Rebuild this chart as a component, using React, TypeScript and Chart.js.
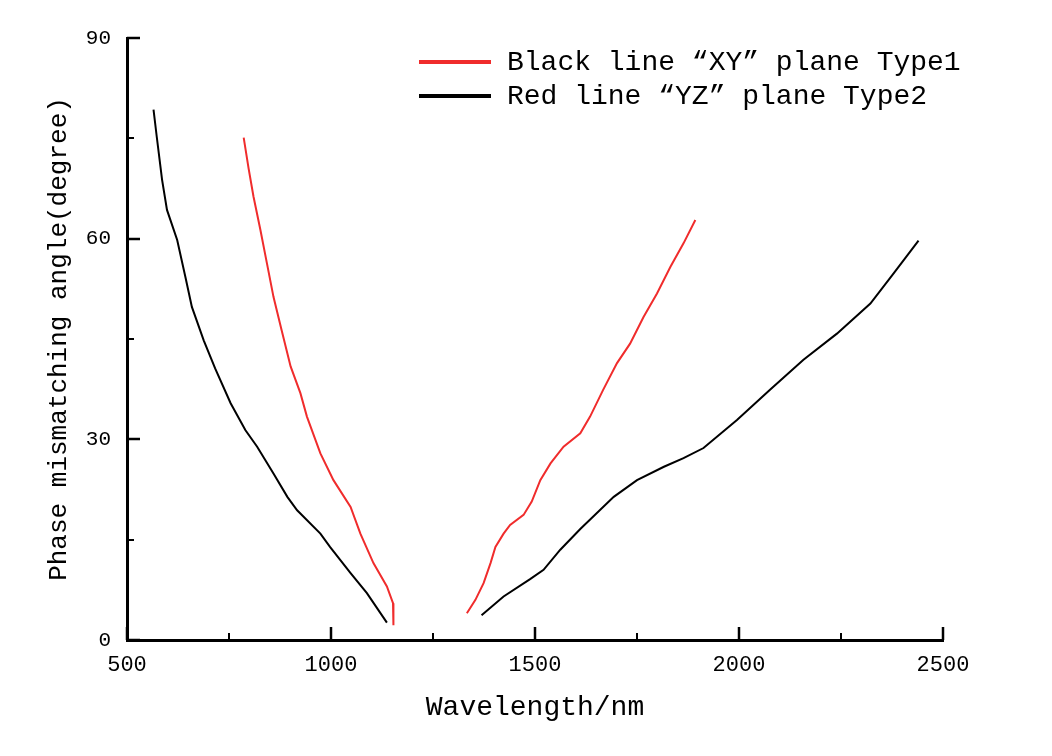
import React, { useEffect, useRef } from 'react';
import { Chart, registerables } from 'chart.js';

Chart.register(...registerables);

const FONT = '"Liberation Mono", "DejaVu Sans Mono", monospace';

// Series 1 (red): labelled "Black line “XY” plane Type1"
const redLeftX = [786, 798, 810, 827, 843, 859, 879, 901, 925, 941, 974, 1006, 1048, 1072, 1104, 1137, 1152, 1153];
const redLeftY = [75.1, 70.5, 66.3, 61.3, 56.3, 51.3, 46.3, 40.9, 36.9, 33.4, 27.9, 23.9, 19.9, 15.9, 11.5, 8.0, 5.5, 2.2];
const redRightX = [1333, 1354, 1374, 1391, 1403, 1423, 1439, 1472, 1492, 1513, 1538, 1570, 1611, 1635, 1667, 1701, 1733, 1766, 1799, 1832, 1864, 1893];
const redRightY = [4.0, 6.0, 8.5, 11.5, 13.9, 15.9, 17.2, 18.7, 20.7, 23.9, 26.4, 28.9, 30.9, 33.4, 37.4, 41.4, 44.3, 48.3, 51.8, 55.8, 59.3, 62.8];

// Series 2 (black): labelled "Red line “YZ” plane Type2"
const blackLeftX = [565, 573, 586, 598, 623, 643, 659, 688, 716, 754, 790, 819, 859, 893, 917, 974, 998, 1048, 1088, 1137];
const blackLeftY = [79.3, 75.2, 68.8, 64.3, 59.8, 54.3, 49.8, 44.8, 40.6, 35.4, 31.4, 28.9, 24.9, 21.4, 19.4, 15.9, 13.9, 10.0, 7.0, 2.6];
const blackRightX = [1369, 1423, 1488, 1521, 1562, 1611, 1693, 1750, 1816, 1864, 1913, 1995, 2076, 2158, 2240, 2322, 2379, 2440];
const blackRightY = [3.7, 6.5, 9.1, 10.5, 13.5, 16.6, 21.4, 23.9, 25.9, 27.2, 28.7, 32.9, 37.4, 41.9, 45.8, 50.3, 54.8, 59.7];

const seriesLabels = ['Black line \u201CXY\u201D plane Type1', 'Red line \u201CYZ\u201D plane Type2'];
const seriesColors = ['#f02c2c', '#000000'];

const xMajorTicks = [500, 1000, 1500, 2000, 2500];
const xMinorTicks = [750, 1250, 1750, 2250];
const yMajorTicks = [0, 30, 60, 90];
const yMinorTicks = [15, 45, 75];

const xTitle = 'Wavelength/nm';
const yTitle = 'Phase mismatching angle(degree)';

function buildSeries(lx: number[], ly: number[], rx: number[], ry: number[]) {
  const pts: { x: number; y: number | null }[] = lx.map((x, i) => ({ x, y: ly[i] }));
  pts.push({ x: (lx[lx.length - 1] + rx[0]) / 2, y: null });
  rx.forEach((x, i) => pts.push({ x, y: ry[i] }));
  return pts;
}

const inwardTicks = {
  id: 'inwardTicks',
  afterDatasetsDraw(chart: any) {
    const { ctx, chartArea } = chart;
    const xs = chart.scales.x;
    const ys = chart.scales.y;
    ctx.save();
    ctx.strokeStyle = '#000';
    const drawX = (vals: number[], len: number, w: number) => {
      ctx.lineWidth = w;
      vals.forEach((v) => {
        const px = Math.round(xs.getPixelForValue(v));
        ctx.beginPath();
        ctx.moveTo(px, chartArea.bottom);
        ctx.lineTo(px, chartArea.bottom - len);
        ctx.stroke();
      });
    };
    const drawY = (vals: number[], len: number, w: number) => {
      ctx.lineWidth = w;
      vals.forEach((v) => {
        const py = Math.round(ys.getPixelForValue(v));
        ctx.beginPath();
        ctx.moveTo(chartArea.left, py);
        ctx.lineTo(chartArea.left + len, py);
        ctx.stroke();
      });
    };
    drawX(xMajorTicks, 13, 2.5);
    drawX(xMinorTicks, 7, 2);
    drawY(yMajorTicks, 13, 2.5);
    drawY(yMinorTicks, 7, 2);
    ctx.restore();
  },
};

const customLegend = {
  id: 'customLegend',
  afterDraw(chart: any) {
    const { ctx } = chart;
    const rows = [62, 96];
    ctx.save();
    ctx.font = `28px ${FONT}`;
    ctx.textBaseline = 'middle';
    ctx.textAlign = 'left';
    chart.data.datasets.forEach((ds: any, i: number) => {
      const y = rows[i];
      ctx.strokeStyle = ds.borderColor;
      ctx.lineWidth = 4;
      ctx.beginPath();
      ctx.moveTo(419, y);
      ctx.lineTo(491, y);
      ctx.stroke();
      ctx.fillStyle = '#000';
      ctx.fillText(ds.label, 507, y + 1);
    });
    ctx.restore();
  },
};

export default function App() {
  const ref = useRef<HTMLCanvasElement>(null);

  useEffect(() => {
    if (!ref.current) return;
    const chart = new Chart(ref.current, {
      type: 'line',
      data: {
        datasets: [
          {
            label: seriesLabels[0],
            data: buildSeries(redLeftX, redLeftY, redRightX, redRightY),
            borderColor: seriesColors[0],
            backgroundColor: seriesColors[0],
            borderWidth: 2,
            pointRadius: 0,
            tension: 0,
            spanGaps: false,
          },
          {
            label: seriesLabels[1],
            data: buildSeries(blackLeftX, blackLeftY, blackRightX, blackRightY),
            borderColor: seriesColors[1],
            backgroundColor: seriesColors[1],
            borderWidth: 2,
            pointRadius: 0,
            tension: 0,
            spanGaps: false,
          },
        ],
      },
      options: {
        animation: false,
        responsive: true,
        maintainAspectRatio: false,
        parsing: false as any,
        normalized: true,
        layout: { padding: { top: 38, right: 109, left: 0, bottom: 0 } },
        plugins: {
          legend: { display: false },
          tooltip: { enabled: false },
        },
        scales: {
          x: {
            type: 'linear',
            min: 500,
            max: 2500,
            afterFit: (s: any) => {
              s.height = 116;
            },
            afterBuildTicks: (s: any) => {
              s.ticks = xMajorTicks.map((v) => ({ value: v }));
            },
            grid: { display: false, drawTicks: false },
            border: { display: true, width: 3, color: '#000' },
            ticks: {
              font: { family: FONT, size: 22 },
              color: '#000',
              padding: 12,
              maxRotation: 0,
              autoSkip: false,
              callback: (v: any) => String(v),
            },
            title: {
              display: true,
              text: xTitle,
              font: { family: FONT, size: 28 },
              color: '#000',
              padding: { top: 0, bottom: 32 },
            },
          },
          y: {
            type: 'linear',
            min: 0,
            max: 90,
            afterFit: (s: any) => {
              s.width = 127;
            },
            afterBuildTicks: (s: any) => {
              s.ticks = yMajorTicks.map((v) => ({ value: v }));
            },
            grid: { display: false, drawTicks: false },
            border: { display: true, width: 3, color: '#000' },
            ticks: {
              font: { family: FONT, size: 21 },
              color: '#000',
              padding: 16,
              autoSkip: false,
              callback: (v: any) => String(v),
            },
            title: {
              display: true,
              text: yTitle,
              font: { family: FONT, size: 26 },
              color: '#000',
              padding: { top: 44, bottom: 0 },
            },
          },
        },
      } as any,
      plugins: [inwardTicks, customLegend],
    });
    return () => chart.destroy();
  }, []);

  return (
    <div style={{ position: 'fixed', left: 0, top: 0, width: 1052, height: 756, background: '#fff' }}>
      <canvas ref={ref} />
    </div>
  );
}
